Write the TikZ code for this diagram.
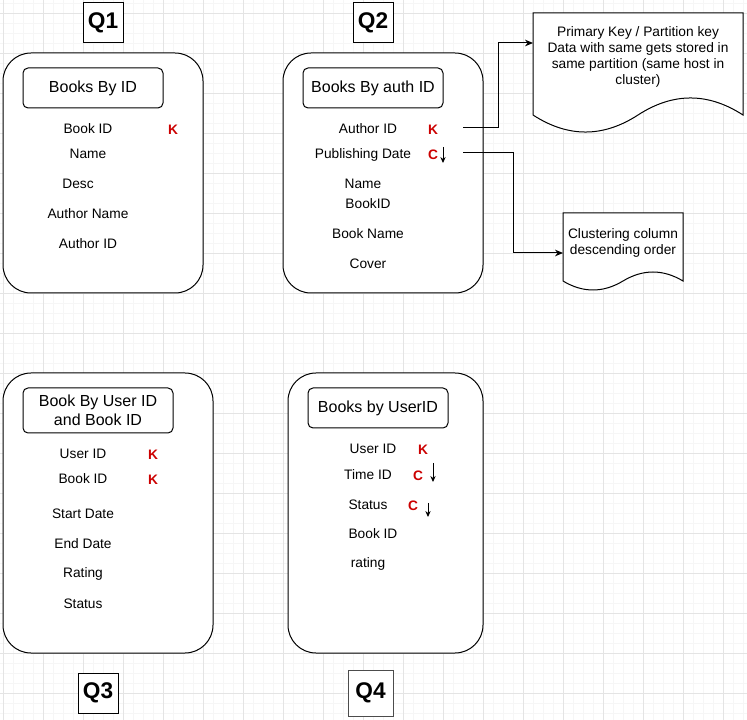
\documentclass[tikz,border=0pt]{standalone}
\usepackage{fontspec}
\setmainfont{Liberation Sans}
\usetikzlibrary{arrows.meta}
\definecolor{keyred}{RGB}{204,0,0}
\definecolor{gridminor}{RGB}{246,246,246}
\definecolor{gridmajor}{RGB}{228,228,228}
\newcommand{\fsfield}{\fontsize{10.3pt}{11.8pt}\selectfont}
\newcommand{\fstitle}{\fontsize{12pt}{14pt}\selectfont}
\newcommand{\fsq}{\fontsize{17pt}{20pt}\selectfont\bfseries}
\tikzset{
  minorline/.style={draw=gridminor,line width=0.5pt},
  majorline/.style={draw=gridmajor,line width=0.6pt},
  tablebox/.style={draw,line width=0.75pt,fill=white,rounded corners=21pt,inner sep=0pt},
  titlebox/.style={draw,line width=0.75pt,fill=white,rounded corners=3.75pt,inner sep=0pt,font=\fstitle,align=center},
  qbox/.style={draw,line width=0.75pt,fill=white,inner sep=0pt,font=\fsq},
  field/.style={inner sep=1pt,font=\fsfield},
  keymark/.style={inner sep=1pt,font=\fsfield\bfseries,text=keyred},
  docshape/.style={draw,line width=0.75pt,fill=white},
  doctext/.style={inner sep=0pt,font=\fsfield,align=center},
  conn/.style={draw,line width=0.75pt,-{Stealth[length=6pt,width=5pt]}},
  sortarrow/.style={draw,line width=0.75pt,-{Stealth[length=4.5pt,width=4pt]}}
}
\begin{document}
\begin{tikzpicture}[x=0.75pt,y=-0.75pt]
\useasboundingbox (0,0) rectangle (747,720);
\fill[white] (0,0) rectangle (747,720);
% grid
\foreach \x in {3,13,...,743} \draw[minorline] (\x,0) -- (\x,720);
\foreach \y in {3,13,...,713} \draw[minorline] (0,\y) -- (747,\y);
\foreach \x in {3,43,...,743} \draw[majorline] (\x,0) -- (\x,720);
\foreach \y in {13,53,...,693} \draw[majorline] (0,\y) -- (747,\y);

% Q labels
\node[qbox,minimum width=30pt,minimum height=30pt] (q1) at (103,23) {Q1};
\node[qbox,minimum width=30pt,minimum height=30pt] (q2) at (373,23) {Q2};
\node[qbox,minimum width=30pt,minimum height=30pt] (q3) at (98,693) {Q3};
\node[qbox,draw=black!70,minimum width=33.75pt,minimum height=34.5pt] (q4) at (370.5,693) {Q4};

% Q1 table
\node[tablebox,minimum width=150pt,minimum height=180pt] (t1) at (103,173) {};
\node[titlebox,minimum width=105pt,minimum height=30pt] (h1) at (93,88) {Books By ID};
\node[field] (t1a) at (88,129) {Book ID};
\node[keymark] (t1k) at (173,130) {K};
\node[field] (t1b) at (88,154) {Name};
\node[field] (t1c) at (78,184) {Desc};
\node[field] (t1d) at (88,214) {Author Name};
\node[field] (t1e) at (88,244) {Author ID};

% Q2 table
\node[tablebox,minimum width=150pt,minimum height=180pt] (t2) at (383,173) {};
\node[titlebox,minimum width=105pt,minimum height=30pt] (h2) at (373,88) {Books By auth ID};
\node[field] (t2a) at (368,129) {Author ID};
\node[keymark] (t2k) at (433,130) {K};
\node[field] (t2b) at (363,155) {Publishing Date};
\node[keymark] (t2c) at (433,155) {C};
\coordinate (t2arrA) at (443,147);
\coordinate (t2arrB) at (443,163);
\draw[sortarrow] (t2arrA) -- (t2arrB);
\node[field] (t2d) at (363,184) {Name};
\node[field] (t2e) at (368,204) {BookID};
\node[field] (t2f) at (368,234) {Book Name};
\node[field] (t2g) at (368,264) {Cover};

% Primary key note
\draw[docshape] (533,13) -- (743,13) -- (743,115)
  .. controls (708,92.3) and (673,92.3) .. (638,115)
  .. controls (603,137.7) and (568,137.7) .. (533,115) -- cycle;
\node[doctext] (pknote) at (638,57) {Primary Key / Partition key\\Data with same gets stored in\\same partition (same host in\\cluster)};
\coordinate (pkstart) at (463,128);
\coordinate (pktip) at (533,43);
\draw[conn] (pkstart) -- ++(35,0) |- (pktip);

% Clustering note
\draw[docshape] (563,213) -- (683,213) -- (683,281)
  .. controls (663,269) and (643,269) .. (623,281)
  .. controls (603,293) and (583,293) .. (563,281) -- cycle;
\node[doctext] (clnote) at (623,243) {Clustering column\\descending order};
\coordinate (clstart) at (463,153);
\coordinate (cltip) at (563,253);
\draw[conn] (clstart) -- ++(50,0) |- (cltip);

% Q3 table
\node[tablebox,minimum width=157.5pt,minimum height=210pt] (t3) at (108,513) {};
\node[titlebox,minimum width=112.5pt,minimum height=33.75pt] (h3) at (98,410.5) {Book By User ID\\and Book ID};
\node[field] (t3a) at (83,454) {User ID};
\node[keymark] (t3k1) at (153,455) {K};
\node[field] (t3b) at (83,479) {Book ID};
\node[keymark] (t3k2) at (153,480) {K};
\node[field] (t3c) at (83,514) {Start Date};
\node[field] (t3d) at (83,544) {End Date};
\node[field] (t3e) at (83,574) {Rating};
\node[field] (t3f) at (83,604) {Status};

% Q4 table
\node[tablebox,minimum width=146.25pt,minimum height=210pt] (t4) at (385.5,513) {};
\node[titlebox,minimum width=105pt,minimum height=30pt] (h4) at (378,408) {Books by UserID};
\node[field] (t4a) at (373,449) {User ID};
\node[keymark] (t4k) at (423,450) {K};
\node[field] (t4b) at (368,475) {Time ID};
\node[keymark] (t4c1) at (418,476) {C};
\coordinate (t4arr1A) at (433,463);
\coordinate (t4arr1B) at (433,482);
\draw[sortarrow] (t4arr1A) -- (t4arr1B);
\node[field] (t4c) at (368,505) {Status};
\node[keymark] (t4c2) at (413,506) {C};
\coordinate (t4arr2A) at (428,503);
\coordinate (t4arr2B) at (428,517);
\draw[sortarrow] (t4arr2A) -- (t4arr2B);
\node[field] (t4d) at (373,534) {Book ID};
\node[field] (t4e) at (368,564) {rating};
\end{tikzpicture}
\end{document}
